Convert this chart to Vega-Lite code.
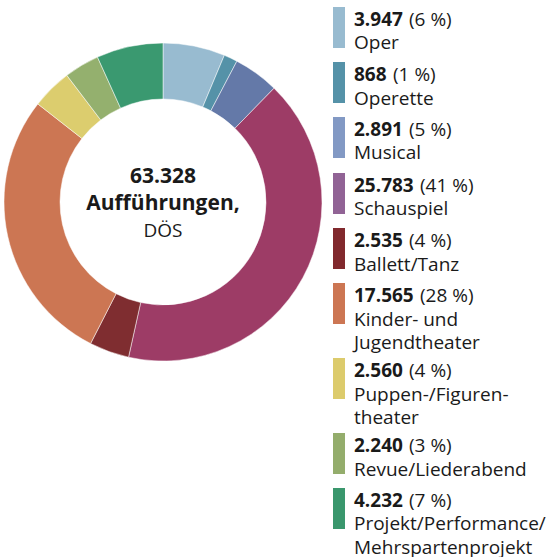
{
  "$schema": "https://vega.github.io/schema/vega-lite/v6.json",
  "padding": 0,
  "background": "white",
  "spacing": 7,
  "config": {"view": {"stroke": null}, "font": "Open Sans"},
  "datasets": {
    "perf": [
      {"cat": "Oper", "value": 3947, "order": 1},
      {"cat": "Operette", "value": 868, "order": 2},
      {"cat": "Musical", "value": 2891, "order": 3},
      {"cat": "Schauspiel", "value": 25783, "order": 4},
      {"cat": "Ballett/Tanz", "value": 2535, "order": 5},
      {"cat": "Kinder- und Jugendtheater", "value": 17565, "order": 6},
      {"cat": "Puppen-/Figurentheater", "value": 2560, "order": 7},
      {"cat": "Revue/Liederabend", "value": 2240, "order": 8},
      {"cat": "Projekt/Performance/Mehrspartenprojekt", "value": 4232, "order": 9}
    ],
    "center": [
      {"line": 1, "t": "63.328"},
      {"line": 2, "t": "Aufführungen,"},
      {"line": 3, "t": "DÖS"}
    ],
    "swatches": [
      {"cat": "Oper", "top": 0.298, "bottom": 2.043},
      {"cat": "Operette", "top": 2.638, "bottom": 4.383},
      {"cat": "Musical", "top": 4.979, "bottom": 6.723},
      {"cat": "Schauspiel", "top": 7.362, "bottom": 9.106},
      {"cat": "Ballett/Tanz", "top": 9.702, "bottom": 11.447},
      {"cat": "Kinder- und Jugendtheater", "top": 12.043, "bottom": 13.787},
      {"cat": "Puppen-/Figurentheater", "top": 15.234, "bottom": 16.979},
      {"cat": "Revue/Liederabend", "top": 18.426, "bottom": 20.17},
      {"cat": "Projekt/Performance/Mehrspartenprojekt", "top": 20.766, "bottom": 22.511}
    ],
    "legendLines": [
      {"cat": "Oper", "pos": 1.106, "num": "3.947", "pct": "(6 %)"},
      {"cat": "Oper", "pos": 2.106, "text": "Oper"},
      {"cat": "Operette", "pos": 3.447, "num": "868", "pct": "(1 %)"},
      {"cat": "Operette", "pos": 4.447, "text": "Operette"},
      {"cat": "Musical", "pos": 5.787, "num": "2.891", "pct": "(5 %)"},
      {"cat": "Musical", "pos": 6.787, "text": "Musical"},
      {"cat": "Schauspiel", "pos": 8.17, "num": "25.783", "pct": "(41 %)"},
      {"cat": "Schauspiel", "pos": 9.17, "text": "Schauspiel"},
      {"cat": "Ballett/Tanz", "pos": 10.511, "num": "2.535", "pct": "(4 %)"},
      {"cat": "Ballett/Tanz", "pos": 11.511, "text": "Ballett/Tanz"},
      {"cat": "Kinder- und Jugendtheater", "pos": 12.851, "num": "17.565", "pct": "(28 %)"},
      {"cat": "Kinder- und Jugendtheater", "pos": 13.851, "text": "Kinder- und"},
      {"cat": "Kinder- und Jugendtheater", "pos": 14.851, "text": "Jugendtheater"},
      {"cat": "Puppen-/Figurentheater", "pos": 16.043, "num": "2.560", "pct": "(4 %)"},
      {"cat": "Puppen-/Figurentheater", "pos": 17.043, "text": "Puppen-/Figuren-"},
      {"cat": "Puppen-/Figurentheater", "pos": 18.043, "text": "theater"},
      {"cat": "Revue/Liederabend", "pos": 19.234, "num": "2.240", "pct": "(3 %)"},
      {"cat": "Revue/Liederabend", "pos": 20.234, "text": "Revue/Liederabend"},
      {"cat": "Projekt/Performance/Mehrspartenprojekt", "pos": 21.574, "num": "4.232", "pct": "(7 %)"},
      {"cat": "Projekt/Performance/Mehrspartenprojekt", "pos": 22.574, "text": "Projekt/Performance/"},
      {"cat": "Projekt/Performance/Mehrspartenprojekt", "pos": 23.574, "text": "Mehrspartenprojekt"}
    ]
  },
  "resolve": {"scale": {"color": "independent", "x": "independent", "y": "independent"}},
  "hconcat": [
    {
      "width": 326,
      "height": 404,
      "layer": [
        {
          "data": {"name": "perf"},
          "mark": {"type": "arc", "outerRadius": 159, "innerRadius": 103, "stroke": "white", "strokeWidth": 0.5},
          "encoding": {
            "theta": {"field": "value", "type": "quantitative", "stack": true},
            "order": {"field": "order", "type": "quantitative"},
            "color": {
              "field": "cat",
              "type": "nominal",
              "legend": null,
              "scale": {
                "domain": ["Oper", "Operette", "Musical", "Schauspiel", "Ballett/Tanz", "Kinder- und Jugendtheater", "Puppen-/Figurentheater", "Revue/Liederabend", "Projekt/Performance/Mehrspartenprojekt"],
                "range": ["#98bbd0", "#5592a8", "#6479a8", "#9d3c66", "#7f2d30", "#cc7653", "#dccd6e", "#94b06e", "#3a9970"]
              }
            }
          }
        },
        {
          "data": {"name": "center"},
          "transform": [{"filter": "datum.line == 1"}],
          "mark": {"type": "text", "fontWeight": "bold", "fontSize": 21, "dy": -19, "baseline": "alphabetic", "align": "center", "color": "#1a1a1a"},
          "encoding": {"text": {"field": "t"}}
        },
        {
          "data": {"name": "center"},
          "transform": [{"filter": "datum.line == 2"}],
          "mark": {"type": "text", "fontWeight": "bold", "fontSize": 21, "dy": 8, "baseline": "alphabetic", "align": "center", "color": "#1a1a1a"},
          "encoding": {"text": {"field": "t"}}
        },
        {
          "data": {"name": "center"},
          "transform": [{"filter": "datum.line == 3"}],
          "mark": {"type": "text", "fontSize": 19, "dy": 35, "baseline": "alphabetic", "align": "center", "color": "#1a1a1a"},
          "encoding": {"text": {"field": "t"}}
        }
      ]
    },
    {
      "width": 215,
      "height": 557,
      "layer": [
        {
          "data": {"name": "swatches"},
          "mark": {"type": "rect"},
          "encoding": {
            "x": {"datum": 0, "type": "quantitative", "scale": {"domain": [0, 215], "nice": false, "zero": false}, "axis": null},
            "x2": {"datum": 12},
            "y": {"field": "top", "type": "quantitative", "scale": {"domain": [0, 23.702], "reverse": true, "nice": false, "zero": false}, "axis": null},
            "y2": {"field": "bottom"},
            "color": {
              "field": "cat",
              "type": "nominal",
              "legend": null,
              "scale": {
                "domain": ["Oper", "Operette", "Musical", "Schauspiel", "Ballett/Tanz", "Kinder- und Jugendtheater", "Puppen-/Figurentheater", "Revue/Liederabend", "Projekt/Performance/Mehrspartenprojekt"],
                "range": ["#98bbd0", "#5592a8", "#8299c4", "#916395", "#81292d", "#cc7653", "#dccb6c", "#94ad6c", "#3a976d"]
              }
            }
          }
        },
        {
          "data": {"name": "legendLines"},
          "transform": [{"filter": "isValid(datum.text)"}],
          "mark": {"type": "text", "align": "left", "baseline": "alphabetic", "fontSize": 19, "color": "#1a1a1a"},
          "encoding": {
            "x": {"datum": 21, "type": "quantitative"},
            "y": {"field": "pos", "type": "quantitative"},
            "text": {"field": "text"}
          }
        },
        {
          "data": {"name": "legendLines"},
          "transform": [{"filter": "isValid(datum.num)"}],
          "mark": {"type": "text", "align": "left", "baseline": "alphabetic", "fontSize": 19, "fontWeight": "bold", "color": "#1a1a1a"},
          "encoding": {
            "x": {"datum": 21, "type": "quantitative"},
            "y": {"field": "pos", "type": "quantitative"},
            "text": {"field": "num"}
          }
        },
        {
          "data": {"name": "legendLines"},
          "transform": [{"filter": "isValid(datum.num) && length(datum.num) == 3"}],
          "mark": {"type": "text", "align": "left", "baseline": "alphabetic", "fontSize": 19, "color": "#1a1a1a"},
          "encoding": {
            "x": {"datum": 60, "type": "quantitative"},
            "y": {"field": "pos", "type": "quantitative"},
            "text": {"field": "pct"}
          }
        },
        {
          "data": {"name": "legendLines"},
          "transform": [{"filter": "isValid(datum.num) && length(datum.num) == 5"}],
          "mark": {"type": "text", "align": "left", "baseline": "alphabetic", "fontSize": 19, "color": "#1a1a1a"},
          "encoding": {
            "x": {"datum": 76, "type": "quantitative"},
            "y": {"field": "pos", "type": "quantitative"},
            "text": {"field": "pct"}
          }
        },
        {
          "data": {"name": "legendLines"},
          "transform": [{"filter": "isValid(datum.num) && length(datum.num) == 6"}],
          "mark": {"type": "text", "align": "left", "baseline": "alphabetic", "fontSize": 19, "color": "#1a1a1a"},
          "encoding": {
            "x": {"datum": 87, "type": "quantitative"},
            "y": {"field": "pos", "type": "quantitative"},
            "text": {"field": "pct"}
          }
        }
      ]
    }
  ]
}
